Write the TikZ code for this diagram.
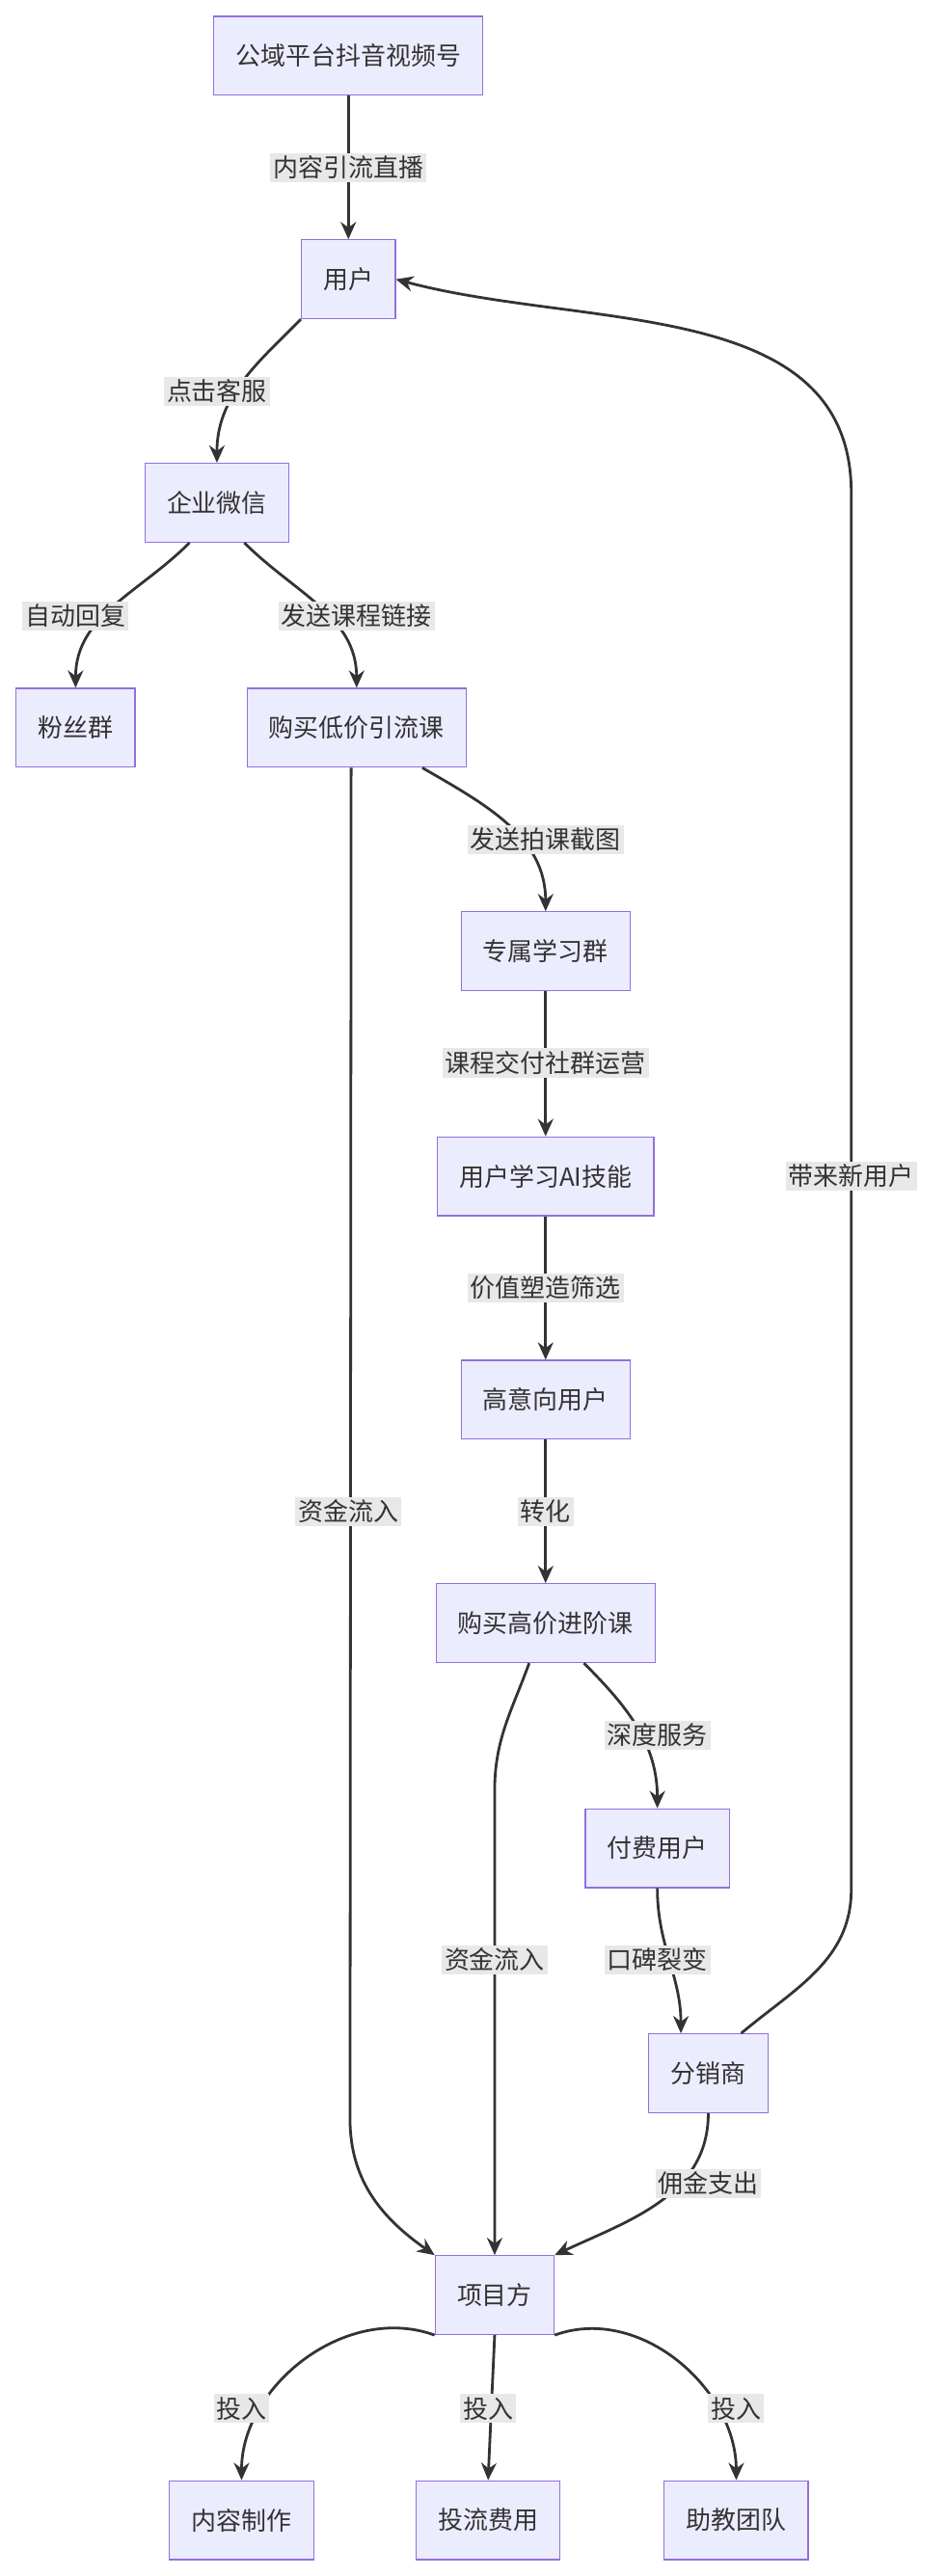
\documentclass[tikz,border=0pt]{standalone}
\usepackage{fontspec}
\setmainfont{Noto Sans CJK SC}
\usetikzlibrary{arrows.meta}
\definecolor{boxfill}{HTML}{ECECFF}
\definecolor{boxline}{HTML}{9370DB}
\definecolor{edge}{HTML}{333333}
\definecolor{lblfill}{HTML}{E8E8E8}
\tikzset{
  box/.style={draw=boxline,fill=boxfill,line width=0.6pt,minimum height=1.44cm,inner xsep=0.4cm,font=\fontsize{13}{15}\selectfont,text=edge},
  lbl/.style={fill=lblfill,inner sep=1.5pt,font=\fontsize{13}{15}\selectfont,text=edge},
  arr/.style={draw=edge,line width=1.4pt,-{Stealth[length=9pt,width=8pt]}}
}
\begin{document}
\begin{tikzpicture}[x=0.03cm,y=-0.03cm]
\useasboundingbox (0,0) rectangle (576,1568);
% nodes
\node[box] (src) at (212,34) {公域平台抖音视频号};
\node[box] (user) at (212,170) {用户};
\node[box] (wx) at (132,306) {企业微信};
\node[box] (fans) at (46,443) {粉丝群};
\node[box] (low) at (217,443) {购买低价引流课};
\node[box] (grp) at (332,579) {专属学习群};
\node[box] (ai) at (332,716) {用户学习AI技能};
\node[box] (high) at (332,852) {高意向用户};
\node[box] (adv) at (332,988) {购买高价进阶课};
\node[box] (paid) at (400,1125) {付费用户};
\node[box] (dist) at (431,1262) {分销商};
\node[box] (proj) at (301,1397) {项目方};
\node[box] (make) at (147,1534) {内容制作};
\node[box] (ads) at (297,1534) {投流费用};
\node[box] (team) at (448,1534) {助教团队};

% connectors
\draw[arr] (src) -- (user);
\draw[arr] (user.south west) to[out=-135,in=90] (wx.north);
\draw[arr] ([xshift=-0.5cm]wx.south) to[out=-135,in=90] (fans.north);
\draw[arr] ([xshift=0.5cm]wx.south) to[out=-45,in=90] (low.north);
\draw[arr] ([xshift=1.2cm]low.south) to[out=-30,in=90] (grp.north);
\draw[arr] (grp) -- (ai);
\draw[arr] (ai) -- (high);
\draw[arr] (high) -- (adv);
\draw[arr] ([xshift=0.7cm]adv.south) to[out=-45,in=90] (paid.north);
\draw[arr] (paid.south) to[out=-90,in=90] ([xshift=-0.5cm]dist.north);
\draw[arr] (dist.south) to[out=-90,in=25] (proj.north east);
\draw[arr] ([xshift=-0.1cm]low.south) -- (213,1290) to[out=-90,in=145] (proj.north west);
\draw[arr] ([xshift=-0.3cm]adv.south) to[out=-110,in=90] (301,1090) -- (proj.north);
\draw[arr] ([xshift=0.6cm]dist.north) to[out=40,in=-90] (518,1150) -- (518,300) to[out=90,in=-15] (user.east);
\draw[arr] (proj.south west) to[out=160,in=90] (make.north);
\draw[arr] (proj.south) -- (ads.north);
\draw[arr] (proj.south east) to[out=20,in=90] (team.north);

% labels
\node[lbl] at (212,102) {内容引流直播};
\node[lbl] at (132,238) {点击客服};
\node[lbl] at (46,375) {自动回复};
\node[lbl] at (217,375) {发送课程链接};
\node[lbl] at (332,511) {发送拍课截图};
\node[lbl] at (332,647) {课程交付社群运营};
\node[lbl] at (332,784) {价值塑造筛选};
\node[lbl] at (332,920) {转化};
\node[lbl] at (400,1056) {深度服务};
\node[lbl] at (400,1193) {口碑裂变};
\node[lbl] at (431,1329) {佣金支出};
\node[lbl] at (212,920) {资金流入};
\node[lbl] at (301,1193) {资金流入};
\node[lbl] at (518,716) {带来新用户};
\node[lbl] at (147,1466) {投入};
\node[lbl] at (297,1466) {投入};
\node[lbl] at (448,1466) {投入};
\end{tikzpicture}
\end{document}
